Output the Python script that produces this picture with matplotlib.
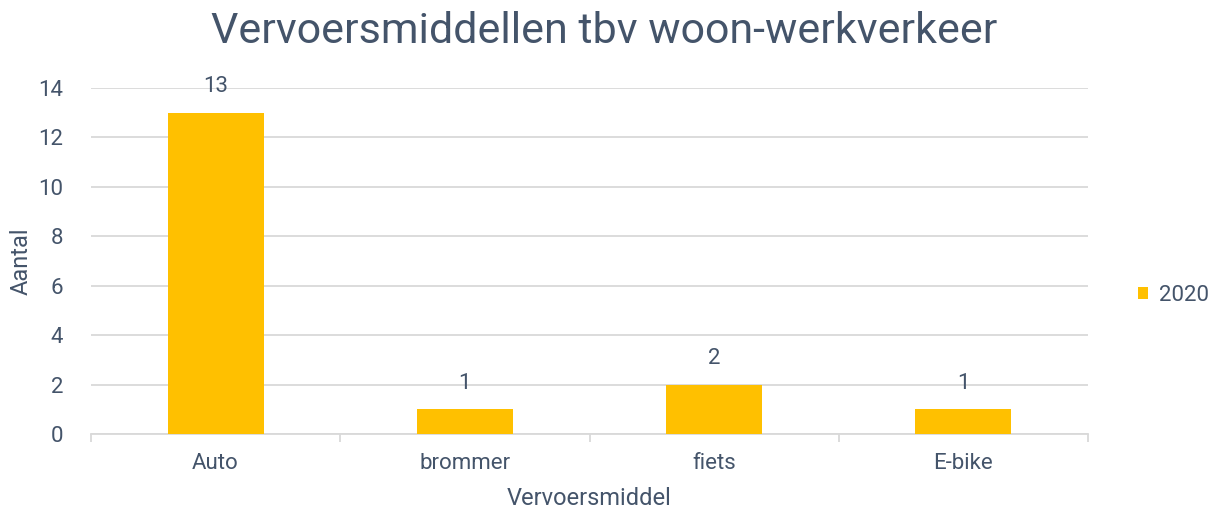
import matplotlib.pyplot as plt
import numpy as np

categories = ['Auto', 'brommer', 'fiets', 'E-bike']
values_2020 = [13, 1, 2, 1]
series_name = '2020'

text_col = '#44546A'
bar_col = '#FFC000'
grid_col = '#D9D9D9'

plt.rcParams['font.family'] = ['Roboto', 'DejaVu Sans']

fig = plt.figure(figsize=(12.08, 5.14), dpi=100)
ax = fig.add_axes([0.0753, 0.1556, 0.9007 - 0.0753, 0.8288 - 0.1556])

x = np.arange(len(categories))
bars = ax.bar(x, values_2020, width=0.385, color=bar_col, label=series_name, zorder=3)
for xi, v in zip(x, values_2020):
    ax.annotate(str(v), (xi, v), xytext=(0, 11), textcoords='offset points',
                ha='center', va='bottom', fontsize=16, color=text_col)

ax.set_xlim(-0.5, len(categories) - 0.5)
ax.set_ylim(0, 14)
ax.set_yticks(range(0, 15, 2))
ax.yaxis.grid(True, color=grid_col, linewidth=1.3, zorder=0)
ax.tick_params(axis='y', length=0, labelsize=16, labelcolor=text_col, pad=20)

ax.set_xticks(x)
ax.set_xticklabels(categories)
ax.tick_params(axis='x', length=0, labelsize=16, labelcolor=text_col, pad=14)
# category boundary ticks
ax.set_xticks(np.arange(-0.5, len(categories), 1), minor=True)
ax.tick_params(axis='x', which='minor', length=6, color=grid_col, width=1.3)

for s in ['top', 'right', 'left']:
    ax.spines[s].set_visible(False)
ax.spines['bottom'].set_color(grid_col)
ax.spines['bottom'].set_linewidth(1.3)

ax.set_xlabel('Vervoersmiddel', fontsize=17, color=text_col, labelpad=9)
ax.set_ylabel('Aantal', fontsize=17, color=text_col, labelpad=4)
fig.suptitle('Vervoersmiddellen tbv woon-werkverkeer', fontsize=31, color=text_col, y=0.978)

ax.legend(loc='center left', bbox_to_anchor=(1.03, 0.4), frameon=False, fontsize=16,
          labelcolor=text_col, handlelength=0.45, handleheight=0.45, handletextpad=0.5)

fig.savefig('out.png', dpi=100)
